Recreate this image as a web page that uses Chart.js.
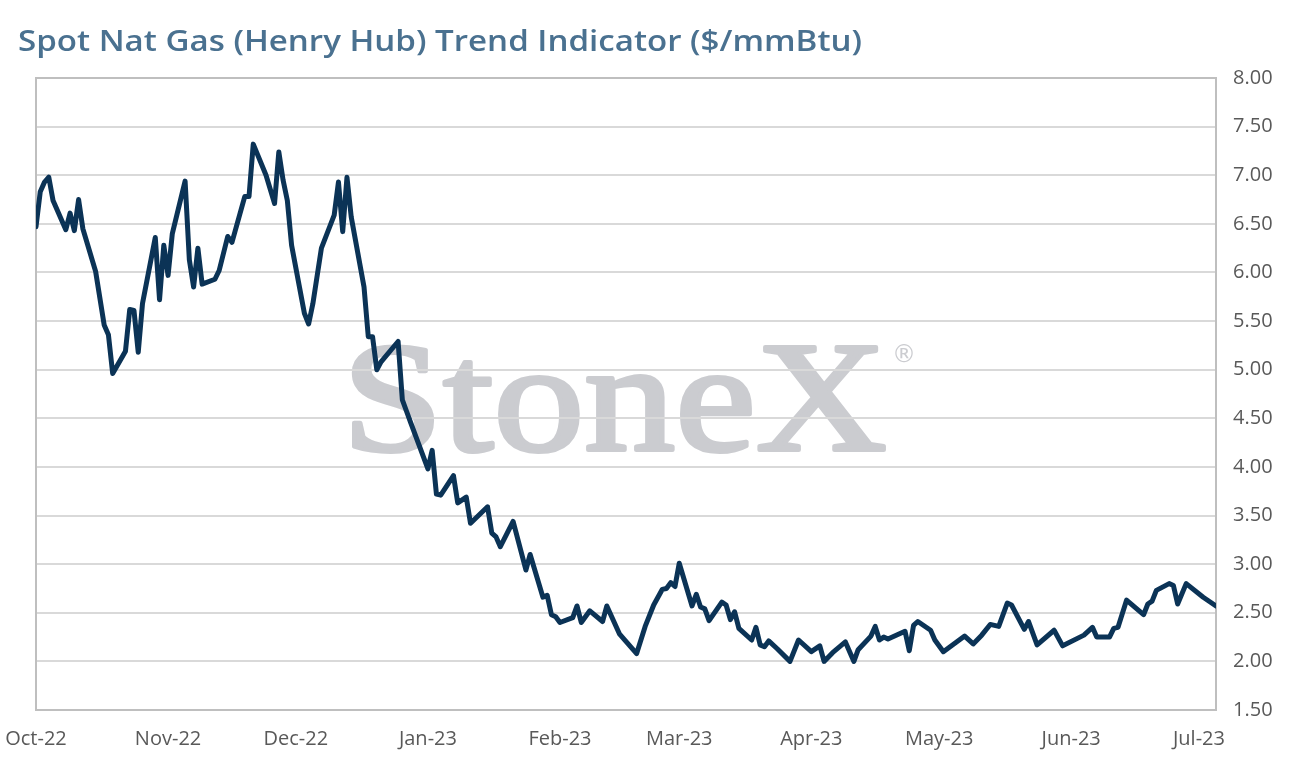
<!DOCTYPE html>
<html>
<head>
<meta charset="utf-8">
<script src="https://cdn.jsdelivr.net/npm/chart.js@4.4.0/dist/chart.umd.min.js"></script>
<style>
  html, body { margin: 0; padding: 0; background: #ffffff; }
  #wrap { width: 1294px; height: 771px; position: relative; }
</style>
</head>
<body>
<div id="wrap"><canvas id="c" width="1294" height="771"></canvas></div>
<script>
// ---- Data ----
const titleText = "Spot Nat Gas (Henry Hub) Trend Indicator ($/mmBtu)";
const watermarkText = "StoneX";

const dates = [
  "2022-10-01","2022-10-02","2022-10-03","2022-10-04","2022-10-05","2022-10-08","2022-10-09","2022-10-10","2022-10-11","2022-10-12",
  "2022-10-15","2022-10-17","2022-10-18","2022-10-19","2022-10-22","2022-10-23","2022-10-24","2022-10-25","2022-10-26","2022-10-29",
  "2022-10-30","2022-10-31","2022-11-01","2022-11-02","2022-11-05","2022-11-06","2022-11-07","2022-11-08","2022-11-09","2022-11-12",
  "2022-11-13","2022-11-15","2022-11-16","2022-11-19","2022-11-20","2022-11-21","2022-11-24","2022-11-26","2022-11-27","2022-11-28",
  "2022-11-29","2022-11-30","2022-12-03","2022-12-04","2022-12-05","2022-12-07","2022-12-10","2022-12-11","2022-12-12","2022-12-13",
  "2022-12-14","2022-12-17","2022-12-18","2022-12-19","2022-12-20","2022-12-21","2022-12-25","2022-12-26","2022-12-27","2022-12-28",
  "2023-01-01","2023-01-02","2023-01-03","2023-01-04","2023-01-07","2023-01-08","2023-01-10","2023-01-11","2023-01-15","2023-01-16",
  "2023-01-17","2023-01-18","2023-01-21","2023-01-24","2023-01-25","2023-01-28","2023-01-29","2023-01-30","2023-01-31","2023-02-01",
  "2023-02-04","2023-02-05","2023-02-06","2023-02-08","2023-02-11","2023-02-12","2023-02-15","2023-02-19","2023-02-21","2023-02-23",
  "2023-02-25","2023-02-26","2023-02-27","2023-02-28","2023-03-01","2023-03-04","2023-03-05","2023-03-06","2023-03-07","2023-03-08",
  "2023-03-11","2023-03-12","2023-03-13","2023-03-14","2023-03-15","2023-03-18","2023-03-19","2023-03-20","2023-03-21","2023-03-22",
  "2023-03-24","2023-03-27","2023-03-29","2023-04-01","2023-04-03","2023-04-04","2023-04-06","2023-04-09","2023-04-11","2023-04-12",
  "2023-04-15","2023-04-16","2023-04-17","2023-04-18","2023-04-19","2023-04-23","2023-04-24","2023-04-25","2023-04-26","2023-04-29",
  "2023-04-30","2023-05-02","2023-05-07","2023-05-09","2023-05-11","2023-05-13","2023-05-15","2023-05-17","2023-05-18","2023-05-21",
  "2023-05-22","2023-05-24","2023-05-28","2023-05-30","2023-06-04","2023-06-06","2023-06-07","2023-06-10","2023-06-11","2023-06-12",
  "2023-06-14","2023-06-18","2023-06-19","2023-06-20","2023-06-21","2023-06-24","2023-06-25","2023-06-26","2023-06-28","2023-07-02",
  "2023-07-05"
];

const prices = [
  6.47,6.83,6.93,6.98,6.74,6.44,6.61,6.43,6.75,6.45,
  6.01,5.46,5.36,4.96,5.19,5.62,5.61,5.18,5.68,6.36,
  5.72,6.28,5.97,6.40,6.94,6.13,5.85,6.25,5.88,5.93,
  6.02,6.37,6.31,6.78,6.78,7.32,7.00,6.71,7.24,6.95,
  6.74,6.28,5.58,5.47,5.68,6.25,6.59,6.93,6.42,6.98,
  6.57,5.85,5.34,5.34,5.00,5.08,5.29,4.69,4.57,4.45,
  3.98,4.17,3.72,3.71,3.91,3.63,3.69,3.42,3.59,3.32,
  3.28,3.18,3.44,2.94,3.10,2.66,2.68,2.48,2.46,2.40,
  2.45,2.57,2.40,2.52,2.41,2.57,2.28,2.08,2.36,2.58,
  2.74,2.75,2.81,2.77,3.01,2.57,2.69,2.56,2.54,2.42,
  2.61,2.58,2.43,2.51,2.34,2.22,2.35,2.17,2.15,2.21,
  2.13,2.00,2.22,2.10,2.16,2.00,2.09,2.20,2.00,2.12,
  2.26,2.36,2.22,2.25,2.23,2.31,2.11,2.37,2.41,2.32,
  2.22,2.10,2.26,2.18,2.27,2.38,2.36,2.60,2.58,2.33,
  2.41,2.17,2.32,2.16,2.27,2.35,2.25,2.25,2.34,2.35,
  2.63,2.48,2.59,2.62,2.73,2.80,2.78,2.59,2.80,2.66,
  2.57
];

const monthTickDates = ["2022-10-01","2022-11-01","2022-12-01","2023-01-01","2023-02-01","2023-03-01","2023-04-01","2023-05-01","2023-06-01","2023-07-01"];
const monthTickLabels = ["Oct-22","Nov-22","Dec-22","Jan-23","Feb-23","Mar-23","Apr-23","May-23","Jun-23","Jul-23"];

const yMin = 1.5, yMax = 8.0, yStep = 0.5;
const axisStartDate = "2022-10-01";
const axisEndDate = "2023-07-05";

// ---- helpers ----
function dayNum(s) {
  const [y, m, d] = s.split("-").map(Number);
  const [y0, m0, d0] = axisStartDate.split("-").map(Number);
  return Math.round((Date.UTC(y, m - 1, d) - Date.UTC(y0, m0 - 1, d0)) / 86400000);
}
const points = dates.map((d, i) => ({ x: dayNum(d), y: prices[i] }));
const tickDays = monthTickDates.map(dayNum);

const FONT = "'Open Sans', 'DejaVu Sans', sans-serif";

function fitText(ctx, text, x, y, targetW, strokeW) {
  const w = ctx.measureText(text).width;
  ctx.save();
  ctx.translate(x, y);
  ctx.scale(targetW / w, 1);
  ctx.fillText(text, 0, 0);
  if (strokeW) {
    ctx.strokeStyle = ctx.fillStyle;
    ctx.lineWidth = strokeW;
    ctx.lineJoin = 'round';
    ctx.strokeText(text, 0, 0);
  }
  ctx.restore();
}

const bgAndWatermark = {
  id: 'bgAndWatermark',
  beforeDraw(chart) {
    const ctx = chart.ctx;
    ctx.save();
    ctx.fillStyle = '#ffffff';
    ctx.fillRect(0, 0, chart.width, chart.height);
    // watermark
    ctx.fillStyle = '#cbccd0';
    ctx.font = "156px 'Liberation Serif', 'DejaVu Serif', serif";
    ctx.textBaseline = 'alphabetic';
    fitText(ctx, watermarkText, 342, 450, 545, 4);
    ctx.font = "24px 'DejaVu Sans', sans-serif";
    ctx.textBaseline = 'top';
    ctx.fillText('\u00AE', 892, 344);
    // title
    ctx.fillStyle = '#4a7190';
    ctx.font = "600 29px " + FONT;
    ctx.textBaseline = 'alphabetic';
    fitText(ctx, titleText, 18, 51, 844);
    ctx.restore();
  }
};

const frame = {
  id: 'frame',
  beforeDatasetsDraw(chart) {
    const a = chart.chartArea;
    const ctx = chart.ctx;
    ctx.save();
    ctx.strokeStyle = '#bfbfbf';
    ctx.lineWidth = 2;
    ctx.strokeRect(a.left, a.top, a.right - a.left, a.bottom - a.top);
    ctx.restore();
  }
};

new Chart(document.getElementById('c'), {
  type: 'line',
  data: {
    datasets: [{
      data: points,
      borderColor: '#0b3356',
      borderWidth: 5,
      pointRadius: 0,
      tension: 0,
      fill: false,
      borderJoinStyle: 'round',
      borderCapStyle: 'round'
    }]
  },
  options: {
    responsive: false,
    animation: false,
    devicePixelRatio: 1,
    layout: { padding: { left: 36, top: 78, right: 0, bottom: 0 } },
    plugins: { legend: { display: false }, tooltip: { enabled: false }, title: { display: false } },
    scales: {
      x: {
        type: 'linear',
        min: 0,
        max: dayNum(axisEndDate),
        grid: { display: false, drawTicks: false },
        border: { display: false },
        afterBuildTicks(scale) { scale.ticks = tickDays.map(v => ({ value: v })); },
        afterFit(scale) { scale.height = 61; scale.paddingLeft = 0; scale.paddingRight = 0; },
        ticks: {
          autoSkip: false, maxRotation: 0, minRotation: 0, padding: 17,
          color: '#595959',
          font: { family: FONT, size: 20 },
          callback(v) { const i = tickDays.indexOf(v); return i >= 0 ? monthTickLabels[i] : ''; }
        }
      },
      y: {
        position: 'right',
        min: yMin, max: yMax,
        grid: { color: '#d9d9d9', lineWidth: 2, drawTicks: false },
        border: { display: false },
        afterFit(scale) { scale.width = 78; scale.paddingTop = 0; scale.paddingBottom = 0; },
        ticks: {
          stepSize: yStep, padding: 17,
          color: '#595959',
          font: { family: FONT, size: 20 },
          callback(v) { return Number(v).toFixed(2); }
        }
      }
    }
  },
  plugins: [bgAndWatermark, frame]
});
</script>
</body>
</html>
